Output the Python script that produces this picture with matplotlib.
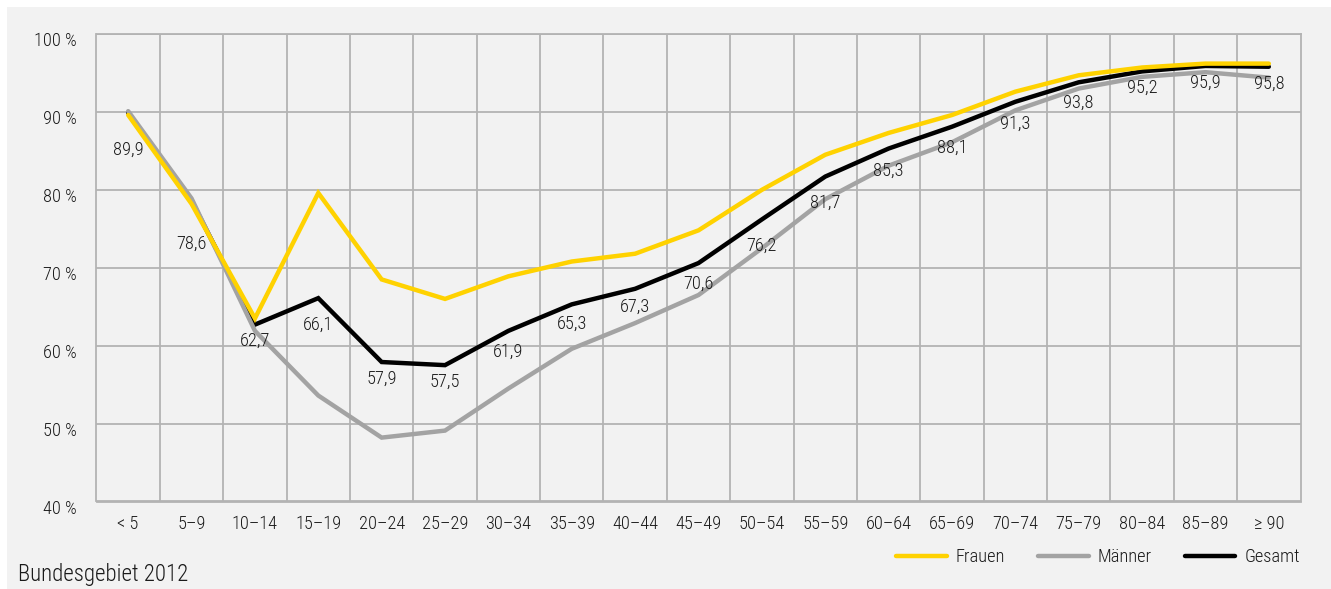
import matplotlib
matplotlib.use("Agg")
import matplotlib.pyplot as plt
import matplotlib.transforms as mtransforms
from matplotlib.patches import Rectangle
from matplotlib.ticker import FixedLocator, NullFormatter

plt.rcParams['font.family'] = ['Roboto Condensed', 'DejaVu Sans']
plt.rcParams['font.weight'] = 300

# Age groups and shares (%) per group
groups = ['< 5', '5–9', '10–14', '15–19', '20–24', '25–29', '30–34', '35–39',
          '40–44', '45–49', '50–54', '55–59', '60–64', '65–69', '70–74',
          '75–79', '80–84', '85–89', '≥ 90']
frauen = [89.6, 78.2, 63.5, 79.6, 68.5, 66.0, 68.9, 70.8, 71.8, 74.8,
          80.0, 84.5, 87.3, 89.6, 92.6, 94.7, 95.7, 96.2, 96.2]
maenner = [90.1, 78.9, 61.9, 53.6, 48.2, 49.1, 54.5, 59.6, 62.9, 66.5,
           72.5, 78.8, 83.1, 86.1, 90.2, 93.0, 94.5, 95.1, 94.4]
gesamt = [89.9, 78.6, 62.7, 66.1, 57.9, 57.5, 61.9, 65.3, 67.3, 70.6,
          76.2, 81.7, 85.3, 88.1, 91.3, 93.8, 95.2, 95.9, 95.8]
y_ticks = [40, 50, 60, 70, 80, 90, 100]

# distance (points) of each value label below the Gesamt line
label_drop = [27, 31, 12, 19, 12, 12, 15, 14, 13, 15,
              19, 19, 16, 15, 16, 15, 12, 12, 12]

W, H, DPI = 1331, 589, 100
FS = 13.2
fig = plt.figure(figsize=(W / DPI, H / DPI), dpi=DPI)
fig.patch.set_facecolor('white')
bg = '#f2f2f2'
fig.patches.append(Rectangle((7 / W, 0), 1 - 7 / W, 1 - 7 / H,
                             transform=fig.transFigure, facecolor=bg,
                             edgecolor='none', zorder=-10))

left, right = 96.5 / W, 1300.5 / W
bottom, top = 1 - 501.5 / H, 1 - 34 / H
ax = fig.add_axes([left, bottom, right - left, top - bottom])
ax.set_facecolor(bg)

x = list(range(len(groups)))
ax.plot(x, gesamt, color='black', lw=3.2, solid_joinstyle='miter',
        solid_capstyle='round', zorder=3, label='Gesamt')
ax.plot(x, maenner, color='#a3a3a3', lw=3.2, solid_joinstyle='miter',
        solid_capstyle='round', zorder=4, label='Männer')
ax.plot(x, frauen, color='#ffd200', lw=3.2, solid_joinstyle='miter',
        solid_capstyle='round', zorder=5, label='Frauen')

for xi, v, d in zip(x, gesamt, label_drop):
    ax.annotate(f'{v:.1f}'.replace('.', ','), (xi, v), xytext=(0, -d),
                textcoords='offset points', ha='center', va='center',
                fontsize=FS, color='#1a1a1a', zorder=6)

ax.set_xlim(-0.5, len(groups) - 0.5)
ax.set_ylim(40, 100)
ax.set_xticks(x)
ax.set_xticklabels(groups)
ax.xaxis.set_minor_locator(FixedLocator([i + 0.5 for i in range(len(groups) - 1)]))
ax.xaxis.set_minor_formatter(NullFormatter())
ax.set_yticks(y_ticks)
ax.set_yticklabels([f'{t} %' for t in y_ticks])

grid_c = '#b3b3b3'
ax.grid(True, which='minor', axis='x', color=grid_c, lw=1.3, zorder=1)
ax.grid(True, which='major', axis='y', color=grid_c, lw=1.3, zorder=1)
ax.grid(False, which='major', axis='x')
for s in ax.spines.values():
    s.set_color(grid_c)
    s.set_linewidth(1.3)

ax.tick_params(axis='both', which='both', length=0, labelsize=FS,
               colors='#1a1a1a')
ax.tick_params(axis='x', pad=10)
ax.tick_params(axis='y', pad=14)
shift = mtransforms.ScaledTranslation(0, -5 / DPI, fig.dpi_scale_trans)
for lbl in ax.get_yticklabels():
    lbl.set_transform(lbl.get_transform() + shift)

handles, labels = ax.get_legend_handles_labels()
order = [2, 1, 0]
leg = fig.legend([handles[i] for i in order], [labels[i] for i in order],
                 loc='center right', bbox_to_anchor=(1300 / W, 1 - 557 / H),
                 ncol=3, frameon=False, fontsize=FS, handlelength=2.75,
                 handletextpad=0.5, columnspacing=1.8, borderpad=0,
                 borderaxespad=0)
for t in leg.get_texts():
    t.set_color('#1a1a1a')

fig.text(18 / W, 1 - 575 / H, 'Bundesgebiet 2012', ha='left', va='center',
         fontsize=16.5, color='#1a1a1a')

fig.savefig('out.png', dpi=DPI, facecolor=fig.get_facecolor())
